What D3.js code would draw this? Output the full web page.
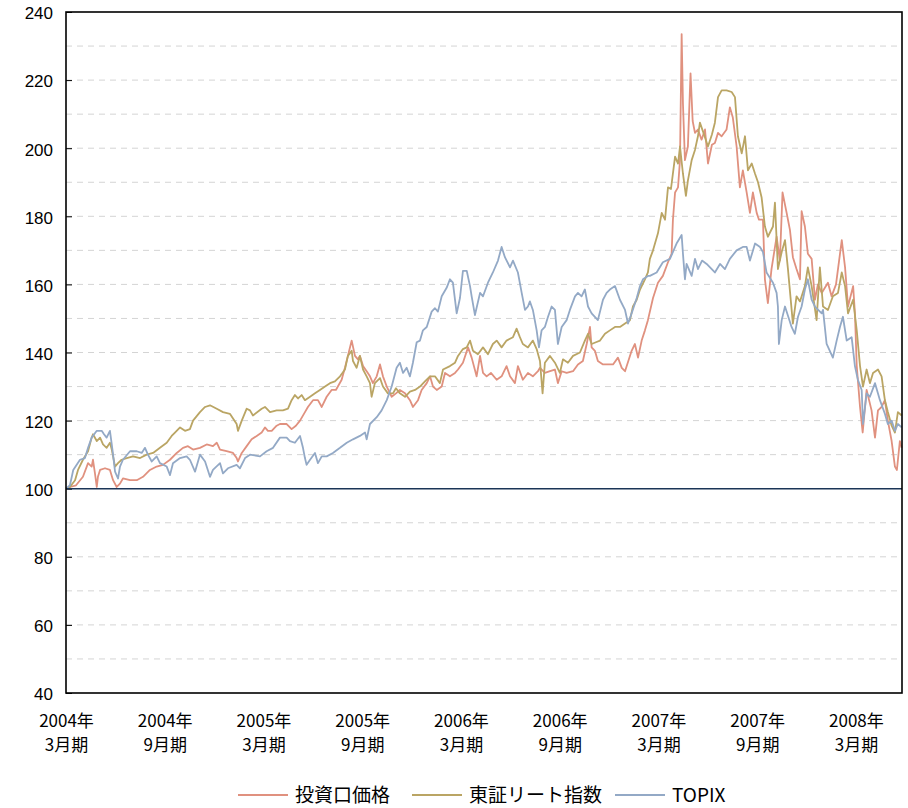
<!DOCTYPE html>
<html><head><meta charset="utf-8">
<script src="https://cdn.jsdelivr.net/npm/d3@7"></script>
<style>
html,body{margin:0;padding:0;background:#fff;}
svg text{font-family:"Noto Sans CJK JP","Noto Sans",sans-serif;fill:#000;}
svg .ylab text{font-family:"Liberation Sans","Noto Sans",sans-serif;}
</style></head>
<body><svg id="chart" width="908" height="808"></svg>
<script>
// x = months elapsed since end of March 2004
const periodLabels = [["2004年","3月期"],["2004年","9月期"],["2005年","3月期"],["2005年","9月期"],["2006年","3月期"],["2006年","9月期"],["2007年","3月期"],["2007年","9月期"],["2008年","3月期"]];
const periodMonths = [0,6,12,18,24,30,36,42,48];
const yTicks = [40,60,80,100,120,140,160,180,200,220,240];
const seriesNames = ["投資口価格","東証リート指数","TOPIX"];
const seriesColors = ["#E0917F","#BAA564","#93A9C6"];

const unitPrice = [[0,100],[0.24,100.5],[0.61,101],[1.03,103.5],[1.34,107.5],[1.56,106.5],[1.64,108.5],[1.76,104.5],[1.87,100.5],[1.94,103.5],[2.07,105.5],[2.37,106],[2.67,105.5],[2.86,102.5],[3.08,100.5],[3.28,101.5],[3.46,103],[3.89,102.5],[4.30,102.5],[4.68,103.5],[5.10,105.5],[5.51,106.5],[5.89,107],[6.32,108.5],[6.73,110.5],[7.11,112],[7.41,112.5],[7.72,111.5],[8.14,112],[8.55,113],[8.93,112.5],[9.16,113.5],[9.36,111.5],[9.76,111],[10.15,110.5],[10.37,109],[10.45,108],[10.68,110.5],[10.98,112.5],[11.28,114.5],[11.59,115.5],[11.89,116.5],[12.09,118],[12.27,117],[12.50,117],[12.80,118.5],[13.00,119],[13.41,119],[13.71,117.5],[13.97,118.5],[14.22,120],[14.52,122.5],[14.70,124],[15.01,126],[15.31,126],[15.54,124],[15.84,127],[16.14,129],[16.40,129],[16.75,132],[16.95,135.5],[17.13,139],[17.36,143.5],[17.56,139],[17.74,138],[17.86,139],[18.05,136],[18.27,134.5],[18.47,133],[18.65,131],[18.88,133],[19.08,136.5],[19.26,133],[19.49,130],[19.79,127],[20.05,128],[20.29,129],[20.60,128],[20.90,126],[21.08,124],[21.39,126],[21.61,129],[21.92,131],[22.12,133],[22.30,130],[22.53,129],[22.83,130],[23.03,134],[23.33,133],[23.64,134],[23.82,135],[24.12,137],[24.43,141.5],[24.65,138.5],[24.95,133],[25.16,139],[25.34,134],[25.56,133],[25.82,134],[26.17,132],[26.47,133],[26.77,136],[26.98,133],[27.28,131],[27.46,136],[27.76,132],[28.07,134],[28.37,133],[28.68,134.5],[28.80,135.5],[29.10,134],[29.41,134.5],[29.71,135],[29.89,131],[30.12,134.5],[30.42,134],[30.81,134.5],[31.11,136.5],[31.41,137.5],[31.64,142.5],[31.84,147.5],[31.94,141.5],[32.14,140.5],[32.32,137.5],[32.63,136.5],[32.93,136.5],[33.24,136.5],[33.54,138.5],[33.77,135.5],[33.97,134.5],[34.37,140.5],[34.57,142.5],[34.76,138.5],[34.98,143.5],[35.18,146.5],[35.36,149.5],[35.67,156],[35.97,160.5],[36.27,162.5],[36.58,166.5],[36.80,169],[36.88,179],[37.01,187],[37.19,188.5],[37.31,196.5],[37.41,233.5],[37.49,213],[37.61,196.5],[37.79,200.5],[37.95,222],[38.08,208],[38.22,204.5],[38.40,205.5],[38.62,202.5],[38.83,205.5],[39.01,195.5],[39.25,201],[39.43,201.5],[39.62,204.5],[39.84,203.5],[40.14,205.5],[40.34,212],[40.52,209],[40.75,200.5],[40.95,188.5],[41.13,193.5],[41.36,187],[41.56,181],[41.74,187],[41.97,181],[42.11,179],[42.35,179],[42.47,161.5],[42.65,154.5],[42.87,164.5],[43.18,174],[43.38,167],[43.54,187],[43.79,181],[43.99,176],[44.17,168],[44.39,164.5],[44.60,161.5],[44.70,181.5],[44.90,177],[45.08,169],[45.31,167.5],[45.51,155.5],[45.69,160],[45.92,157.5],[46.30,160.5],[46.52,156.5],[46.79,160],[47.14,173],[47.34,165],[47.52,153.5],[47.83,159.5],[47.94,151.5],[48.05,136],[48.25,124],[48.41,116.5],[48.65,129],[48.95,123],[49.16,115],[49.34,123],[49.56,124],[49.76,126],[49.94,120],[50.17,114],[50.37,106.5],[50.49,105.5],[50.67,114],[50.78,112]];

const reitIndex = [[0,100],[0.24,100.5],[0.55,102.5],[0.73,105.5],[1.03,108.5],[1.34,111],[1.56,115],[1.64,116],[1.87,114],[2.07,115],[2.25,113],[2.47,112],[2.67,113.5],[2.78,111.5],[2.98,106.5],[3.16,107.5],[3.38,108.5],[3.69,109],[4.07,109.5],[4.50,109],[4.90,110],[5.29,110.5],[5.71,112],[6.12,113.5],[6.42,115.5],[6.62,116.5],[6.93,118],[7.23,117],[7.53,117.5],[7.72,120],[8.14,122.5],[8.45,124],[8.75,124.5],[9.16,123.5],[9.54,122.5],[9.96,122],[10.37,119],[10.45,117],[10.68,120],[10.98,123.5],[11.18,123],[11.36,121.5],[11.89,123.5],[12.09,124],[12.40,122.5],[12.80,123],[13.18,123],[13.49,123.5],[13.71,126],[13.91,127.5],[14.10,126.5],[14.32,127.5],[14.52,126],[14.83,127],[15.13,128],[15.43,129],[15.74,130],[16.04,131],[16.34,131.5],[16.65,133],[16.95,135],[17.13,139],[17.36,140.5],[17.44,137.5],[17.66,135.5],[17.86,139],[18.05,135],[18.27,133],[18.47,131],[18.57,127],[18.77,131],[19.08,132.5],[19.26,130],[19.56,128],[19.87,128],[20.05,129.5],[20.29,128],[20.60,127],[20.90,128.5],[21.21,129],[21.51,130],[21.81,131.5],[22.12,133],[22.42,133],[22.72,131],[22.91,135],[23.33,136],[23.64,137],[23.82,139],[24.12,141],[24.35,141.5],[24.55,143.5],[24.73,140.5],[25.03,139.5],[25.34,141.5],[25.64,139.5],[25.94,142.5],[26.17,143.5],[26.47,141.5],[26.77,143.5],[27.16,144.5],[27.38,147],[27.58,144.5],[27.76,142.5],[28.07,141.5],[28.37,143.5],[28.60,141],[28.80,137.5],[28.96,128],[29.10,137],[29.41,139],[29.71,137],[30.01,134],[30.20,138],[30.50,137],[30.81,139],[31.23,140],[31.53,143.5],[31.72,145.5],[31.94,142.5],[32.20,143],[32.45,143.5],[32.75,145.5],[33.05,146.5],[33.36,147.5],[33.66,147.5],[33.97,148.5],[34.27,149.5],[34.45,153.5],[34.68,155.5],[34.88,158.5],[35.18,161.5],[35.36,163.5],[35.48,167.5],[35.67,170],[35.97,175],[36.20,181],[36.40,179],[36.58,188.5],[36.76,188],[37.01,197.5],[37.19,195.5],[37.31,200.5],[37.49,192.5],[37.67,186],[37.79,190.5],[38.02,196.5],[38.22,199.5],[38.40,203.5],[38.52,207.5],[38.77,204],[39.01,200.5],[39.25,204],[39.43,207.5],[39.62,215],[39.84,217],[40.14,217],[40.45,216.5],[40.65,215],[40.83,203.5],[41.06,198.5],[41.26,203.5],[41.44,193.5],[41.67,195.5],[41.87,192.5],[42.05,190],[42.27,185.5],[42.47,177],[42.65,174],[42.96,177],[43.08,184],[43.26,164.5],[43.49,169.5],[43.69,173],[43.87,164.5],[44.17,148.5],[44.39,156.5],[44.60,155],[44.90,159.5],[45.08,165],[45.31,159.5],[45.61,149.5],[45.81,165],[46.00,153.5],[46.30,152.5],[46.60,156.5],[46.91,157.5],[47.14,163.5],[47.34,159.5],[47.52,151.5],[47.83,155.5],[48.05,146.5],[48.25,136],[48.43,130],[48.65,135],[48.85,131],[49.04,134],[49.34,135],[49.56,133],[49.76,126],[49.94,122.5],[50.17,118.5],[50.37,116.5],[50.55,122.5],[50.78,121.5]];

const topix = [[0,100],[0.24,101],[0.44,105.5],[0.85,108.5],[1.15,109],[1.34,112],[1.56,115],[1.87,117],[2.17,117],[2.31,116],[2.47,115],[2.67,117],[2.78,113],[2.86,110],[2.98,105],[3.16,103],[3.28,106.5],[3.46,108.5],[3.89,111],[4.30,111],[4.60,110.5],[4.80,112],[4.98,110],[5.21,108],[5.51,109.5],[5.71,107.5],[6.12,106.5],[6.32,104],[6.50,107.5],[6.93,109],[7.33,109.5],[7.53,108.5],[7.84,105],[8.14,110],[8.45,108],[8.75,103.5],[8.93,105.5],[9.36,107.5],[9.54,104.5],[9.84,106],[10.37,107],[10.57,106],[10.88,109],[11.18,110],[11.79,109.5],[12.19,111],[12.58,112],[13.00,115],[13.41,115],[13.61,114],[13.91,113.5],[14.22,115.5],[14.40,112],[14.52,109],[14.62,107],[14.83,108.5],[15.13,110.5],[15.31,107.5],[15.54,109.5],[15.84,109.5],[16.22,110.5],[16.65,112],[17.06,113.5],[17.44,114.5],[17.86,115.5],[18.17,116.5],[18.27,114.5],[18.47,119],[18.88,121],[19.18,123],[19.49,126],[19.79,130],[20.09,135.5],[20.29,137],[20.48,134],[20.70,135.5],[20.90,133],[21.08,137],[21.31,143],[21.51,143.5],[21.69,146.5],[21.92,147.5],[22.22,152],[22.42,153],[22.60,152],[22.83,156.5],[23.13,159],[23.33,161.5],[23.51,160.5],[23.74,151.5],[23.94,156],[24.12,164],[24.35,164],[24.55,159.5],[24.65,156.5],[24.85,151],[25.16,157.5],[25.34,156.5],[25.64,160.5],[25.94,163.5],[26.25,167],[26.47,171],[26.67,168],[26.98,165],[27.16,167],[27.46,163.5],[27.69,157.5],[27.89,152.5],[28.07,153.5],[28.19,155],[28.37,152.5],[28.60,146.5],[28.74,141.5],[28.90,146.5],[29.10,147.5],[29.29,150.5],[29.51,153.5],[29.71,152.5],[29.89,142.5],[30.12,147.5],[30.42,149.5],[30.62,152.5],[30.93,156.5],[31.11,157.5],[31.33,156.5],[31.53,158.5],[31.72,153.5],[31.94,151.5],[32.32,149.5],[32.63,155.5],[32.85,157.5],[33.05,158.5],[33.36,159.5],[33.66,155.5],[33.97,152.5],[34.15,148.5],[34.37,151.5],[34.68,156],[34.88,159.5],[35.06,161.5],[35.36,162.5],[35.48,162.5],[35.89,163.5],[36.27,166.5],[36.70,167.5],[37.10,172],[37.41,174.5],[37.49,169],[37.61,161.5],[37.71,166],[38.02,162.5],[38.22,167.5],[38.40,164.5],[38.65,167],[38.93,166],[39.43,163.5],[39.74,166],[40.04,164.5],[40.34,167.5],[40.75,170],[41.13,171],[41.36,171],[41.56,167],[41.87,172],[42.17,171],[42.35,169.5],[42.57,163.5],[42.96,160.5],[43.18,157.5],[43.26,153.5],[43.32,142.5],[43.49,149.5],[43.69,153.5],[44.09,147.5],[44.29,145.5],[44.48,150.5],[44.70,153.5],[44.90,158.5],[45.08,161.5],[45.31,155.5],[45.51,153.5],[45.92,151.5],[46.00,152.5],[46.22,142.5],[46.60,138.5],[46.83,143.5],[47.03,147.5],[47.21,150.5],[47.44,143.5],[47.74,144.5],[47.94,136],[48.12,132],[48.35,129],[48.43,119],[48.65,128],[48.85,127],[49.16,131],[49.46,126],[49.76,122],[49.94,119],[50.17,120],[50.37,117],[50.55,119],[50.78,118]];

const allSeries = [unitPrice, reitIndex, topix];

const svg = d3.select("#chart");
const m = {left:66, top:12, right:902, bottom:693};
const x = d3.scaleLinear().domain([0,50.8]).range([m.left,m.right]);
const y = d3.scaleLinear().domain([40,240]).range([m.bottom,m.top]);

// dashed gridlines every 10
const gridVals = d3.range(50,240,10).filter(v=>v!==100);
svg.append("g").selectAll("line").data(gridVals).join("line")
  .attr("x1",m.left).attr("x2",m.right).attr("y1",d=>y(d)).attr("y2",d=>y(d))
  .attr("stroke","#d4d4d4").attr("stroke-width",1).attr("stroke-dasharray","6,5");

// y axis
const yAxis = d3.axisLeft(y).tickValues(yTicks).tickSize(-6).tickPadding(13);
const gy = svg.append("g").attr("class","ylab").attr("transform",`translate(${m.left},0)`).call(yAxis);
gy.select(".domain").remove();
gy.selectAll("line").attr("stroke","#000");
gy.selectAll("text").style("font-size","17px").attr("fill","#000").attr("dy","0.4em");

// x axis labels
const xAxis = d3.axisBottom(x).tickValues(periodMonths).tickSize(0).tickFormat("");
const gx = svg.append("g").attr("transform",`translate(0,${m.bottom})`).call(xAxis);
gx.select(".domain").remove();
gx.selectAll(".tick").each(function(d,i){
  const t = d3.select(this).append("text").attr("text-anchor","middle").style("font-size","17px").attr("fill","#000");
  t.append("tspan").attr("x",0).attr("y",34).text(periodLabels[i][0]);
  t.append("tspan").attr("x",0).attr("y",58).text(periodLabels[i][1]);
});

// series lines
const line = d3.line().x(d=>x(d[0])).y(d=>y(d[1]));
allSeries.forEach((s,i)=>{
  svg.append("path").datum(s).attr("d",line).attr("fill","none")
    .attr("stroke",seriesColors[i]).attr("stroke-width",1.8).attr("stroke-linejoin","round");
});

// baseline 100
svg.append("line").attr("x1",m.left).attr("x2",m.right).attr("y1",y(100)).attr("y2",y(100))
  .attr("stroke","#1b3557").attr("stroke-width",1.6);

// frame
svg.append("rect").attr("x",m.left).attr("y",m.top).attr("width",m.right-m.left).attr("height",m.bottom-m.top)
  .attr("fill","none").attr("stroke","#000").attr("stroke-width",1.6);

// legend
const legendX = [238,412,615];
const leg = svg.append("g");
seriesNames.forEach((n,i)=>{
  leg.append("line").attr("x1",legendX[i]).attr("x2",legendX[i]+50).attr("y1",795).attr("y2",795)
    .attr("stroke",seriesColors[i]).attr("stroke-width",1.8);
  leg.append("text").attr("x",legendX[i]+57).attr("y",795).attr("dy","0.36em")
    .style("font-size","19px").text(n);
});
</script></body></html>
